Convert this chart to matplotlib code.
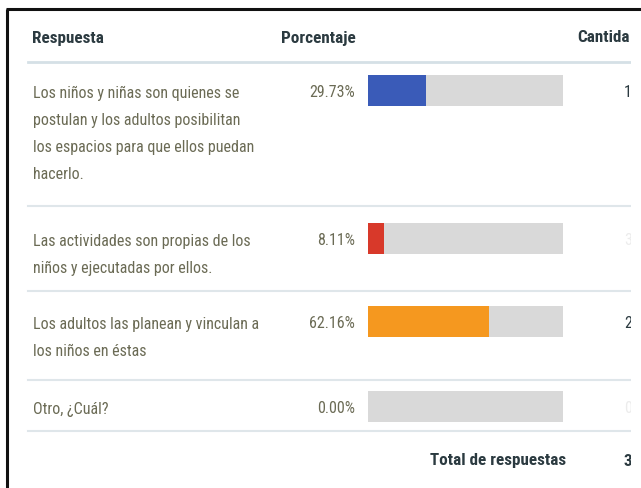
import matplotlib
matplotlib.use("Agg")
import matplotlib.pyplot as plt
from matplotlib import font_manager

# ---- data ----
respuestas = [
    "Los niños y niñas son quienes se\npostulan y los adultos posibilitan\nlos espacios para que ellos puedan\nhacerlo.",
    "Las actividades son propias de los\nniños y ejecutadas por ellos.",
    "Los adultos las planean y vinculan a\nlos niños en éstas",
    "Otro, ¿Cuál?",
]
porcentajes = [29.73, 8.11, 62.16, 0.00]
cantidades = [11, 3, 23, 0]
total = 37
colores = ["#3a5bb8", "#d8392a", "#f5981f", "#d9d9d9"]
encabezados = ["Respuesta", "Porcentaje", "Cantida"]  # last header is cut in the picture

names = {f.name for f in font_manager.fontManager.ttflist}
cands = [n for n in ["Roboto Condensed", "Liberation Sans Narrow", "Roboto"] if n in names]
FAM = cands[:1] + ["DejaVu Sans"]

W, H = 641, 489
CLIPX = 631  # the table is cut off at this x in the picture
fig = plt.figure(figsize=(W / 100, H / 100), dpi=100)

# full-figure axes for the frame
fax = fig.add_axes([0, 0, 1, 1])
fax.set_xlim(0, W)
fax.set_ylim(H, 0)
fax.axis("off")
fax.plot([7, 7], [10, H + 5], color="#111111", lw=2.2, solid_capstyle="butt")
fax.plot([6, W + 5], [10, 10], color="#111111", lw=2.2, solid_capstyle="butt")

# content axes (clipped at the right)
ax = fig.add_axes([0, 0, CLIPX / W, 1])
ax.set_xlim(0, CLIPX)
ax.set_ylim(H, 0)
ax.axis("off")

txt_col = "#6b6b55"
hdr_col = "#2b3a40"
line_col = "#dfe6ea"
hs = 12.3
ts = 11.5

def T(x, y, s, **kw):
    t = ax.text(x, y, s, family=FAM, va="center", **kw)
    t.set_clip_on(True)
    return t

# header
T(32, 38, encabezados[0], fontsize=hs, weight="bold", color=hdr_col)
T(281, 38, encabezados[1], fontsize=hs, weight="bold", color=hdr_col)
T(630, 38, encabezados[2], fontsize=hs, weight="bold", color=hdr_col, ha="right")
ax.plot([28, CLIPX], [63, 63], color="#d5e0e6", lw=2)

# row layout (pixel positions)
row_top = [76, 224, 307, 392]
sep_y = [207, 292, 381, 432]
bar_h = 31

# bars in a dedicated axes with percent scale
bx0, bx1 = 368, 563
bax = fig.add_axes([bx0 / W, 0, (bx1 - bx0) / W, 1])
bax.set_xlim(0, 100)
bax.set_ylim(H, 0)
bax.axis("off")
centers = [t + bar_h / 2 for t in row_top]
bax.barh(centers, [100] * len(centers), height=bar_h, color="#d9d9d9", edgecolor="none")
bax.barh(centers, porcentajes, height=bar_h, color=colores, edgecolor="none")

for i, (resp, pct, cnt) in enumerate(zip(respuestas, porcentajes, cantidades)):
    c = centers[i]
    lines = resp.split("\n")
    for j, ln in enumerate(lines):
        T(33, c + 2 + 27 * j, ln, fontsize=ts, color=txt_col)
    T(355, c + 1, f"{pct:.2f}%", fontsize=ts, color=txt_col, ha="right")
    T(624, c + 1, str(cnt), fontsize=ts,
      color=(hdr_col if cnt not in (0, 3) else "#ececec"))
    ax.plot([28, CLIPX], [sep_y[i], sep_y[i]], color=line_col, lw=1.5)

T(566, 461, "Total de respuestas", fontsize=hs, weight="bold", color=hdr_col, ha="right")
T(623, 461, str(total), fontsize=hs, weight="bold", color=hdr_col)

fig.savefig("out.png", dpi=100)
